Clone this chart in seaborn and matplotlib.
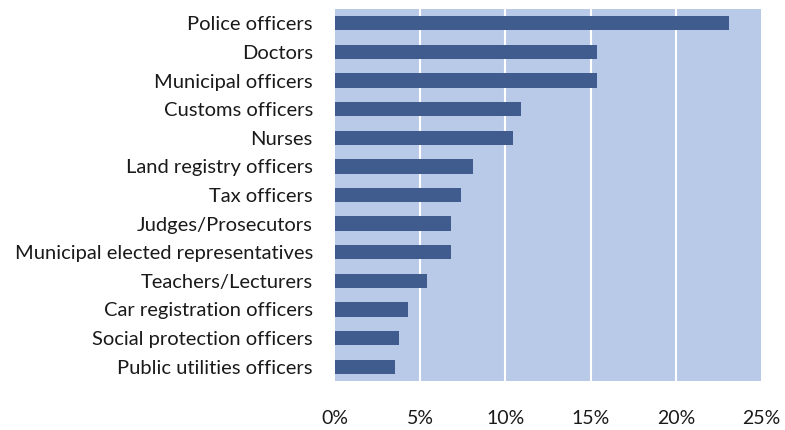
import matplotlib
matplotlib.use("Agg")
import matplotlib.pyplot as plt
import seaborn as sns
import pandas as pd
from matplotlib.ticker import FuncFormatter

categories = ["Police officers", "Doctors", "Municipal officers", "Customs officers",
              "Nurses", "Land registry officers", "Tax officers", "Judges/Prosecutors",
              "Municipal elected representatives", "Teachers/Lecturers",
              "Car registration officers", "Social protection officers",
              "Public utilities officers"]
values = [23.1, 15.4, 15.4, 10.9, 10.45, 8.1, 7.4, 6.8, 6.8, 5.4, 4.3, 3.75, 3.5]
x_ticks = [0, 5, 10, 15, 20, 25]

df = pd.DataFrame({"category": categories, "value": values})

sns.set_theme(style="white")
plt.rcParams['font.family'] = ['Lato', 'DejaVu Sans']

fig = plt.figure(figsize=(7.85, 4.30), dpi=100)
ax = fig.add_axes([335/785, 1-381/430, 426/785, 372/430])
ax.set_facecolor("#B9C9E8")

sns.barplot(data=df, x="value", y="category", color="#405B8E", saturation=1,
            width=0.5, linewidth=0, ax=ax, zorder=3)

ax.set_xlim(0, 25)
ax.set_xticks(x_ticks)
ax.xaxis.set_major_formatter(FuncFormatter(lambda v, p: f"{v:.0f}%"))
for t in [5, 10, 15, 20]:
    ax.axvline(t, color="white", lw=1.5, zorder=2)
ax.set_xlabel("")
ax.set_ylabel("")
for s in ax.spines.values():
    s.set_visible(False)
ax.tick_params(axis="x", length=0, pad=21, labelsize=14, colors="#1a1a1a")
ax.tick_params(axis="y", length=0, pad=16, labelsize=14.5, colors="#1a1a1a")
ax.grid(False)

fig.savefig("out.png", dpi=100, facecolor="white")
